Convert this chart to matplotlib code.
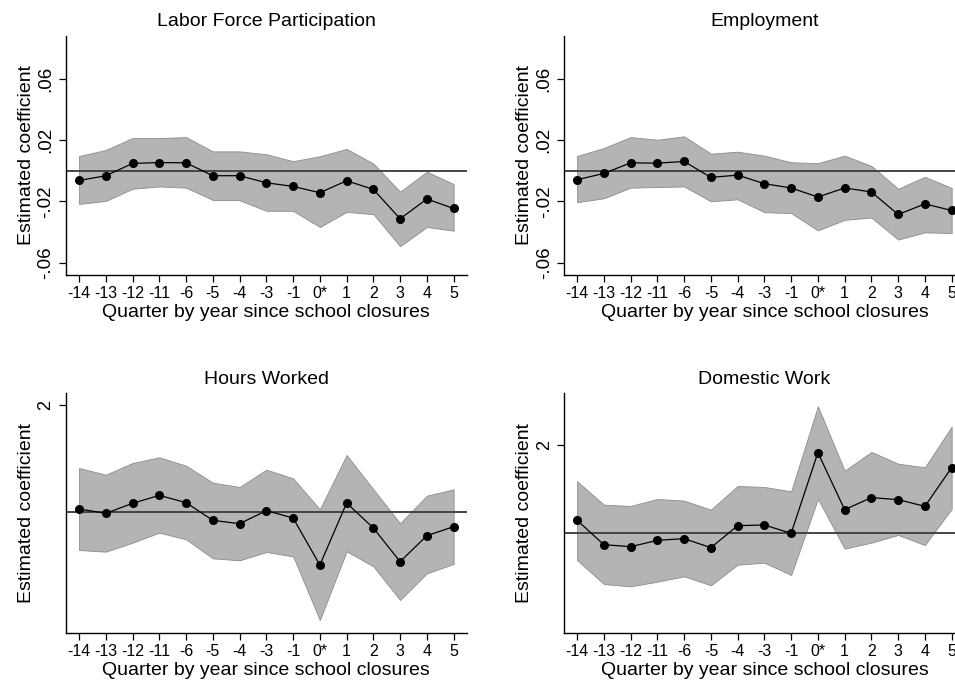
import matplotlib.pyplot as plt

plt.rcParams['font.family'] = ['Liberation Sans', 'DejaVu Sans']

# categorias do eixo x
quarters = ['-14', '-13', '-12', '-11', '-6', '-5', '-4', '-3', '-1', '0*', '1', '2', '3', '4', '5']

# Labor Force Participation
lfp_coef = [-0.0063, -0.0032, 0.0048, 0.0054, 0.0052, -0.0032, -0.0032, -0.0078, -0.0102, -0.0143,
            -0.0065, -0.0121, -0.0313, -0.0184, -0.0246]
lfp_hi = [0.0097, 0.0136, 0.0214, 0.0214, 0.0220, 0.0127, 0.0127, 0.0108, 0.0063, 0.0095,
          0.0143, 0.0048, -0.0136, -0.0006, -0.0086]
lfp_lo = [-0.0216, -0.0197, -0.0117, -0.0102, -0.0110, -0.0190, -0.0192, -0.0261, -0.0261, -0.0367,
          -0.0268, -0.0283, -0.0492, -0.0367, -0.0391]

# Employment
emp_coef = [-0.0058, -0.0017, 0.0052, 0.0050, 0.0061, -0.0043, -0.0028, -0.0084, -0.0112, -0.0171,
            -0.0112, -0.0138, -0.0285, -0.0216, -0.0259]
emp_hi = [0.0097, 0.0149, 0.0220, 0.0203, 0.0225, 0.0112, 0.0125, 0.0099, 0.0056, 0.0050,
          0.0099, 0.0032, -0.0117, -0.0039, -0.0112]
emp_lo = [-0.0205, -0.0179, -0.0110, -0.0106, -0.0102, -0.0199, -0.0186, -0.0270, -0.0276, -0.0389,
          -0.0320, -0.0305, -0.0449, -0.0402, -0.0406]

# Hours Worked
hrs_coef = [0.050, -0.031, 0.157, 0.307, 0.169, -0.163, -0.226, 0.019, -0.119, -1.003,
            0.163, -0.307, -0.940, -0.451, -0.282]
hrs_hi = [0.821, 0.696, 0.915, 1.022, 0.865, 0.545, 0.464, 0.790, 0.627, 0.044,
          1.066, 0.420, -0.219, 0.301, 0.420]
hrs_lo = [-0.721, -0.752, -0.583, -0.395, -0.520, -0.878, -0.915, -0.759, -0.840, -2.038,
          -0.746, -1.028, -1.661, -1.160, -0.984]

# Domestic Work
dom_coef = [0.282, -0.275, -0.321, -0.176, -0.137, -0.344, 0.160, 0.176, -0.015, 1.832,
            0.527, 0.802, 0.756, 0.603, 1.489]
dom_hi = [1.176, 0.641, 0.611, 0.771, 0.733, 0.527, 1.069, 1.046, 0.947, 2.893,
          1.420, 1.847, 1.580, 1.496, 2.427]
dom_lo = [-0.626, -1.176, -1.229, -1.122, -1.000, -1.206, -0.733, -0.687, -0.969, 0.771,
          -0.366, -0.229, -0.053, -0.282, 0.542]

fig = plt.figure(figsize=(9.55, 6.82), dpi=100)


def painel(pos, titulo, coef, hi, lo, ylim, yticks, ylabels, ysize):
    ax = fig.add_axes(pos)
    x = list(range(len(quarters)))
    ax.fill_between(x, lo, hi, color='#b4b4b4', edgecolor='#8c8c8c', linewidth=0.6, zorder=1)
    ax.axhline(0, color='#444444', linewidth=1.4, zorder=2)
    ax.plot(x, coef, color='black', linewidth=0.9, marker='o', markersize=5.5, zorder=3)
    ax.set_xlim(-0.5, len(quarters) - 0.5)
    ax.set_ylim(*ylim)
    ax.set_xticks(x)
    ax.set_xticklabels(quarters, fontsize=11.5)
    ax.set_yticks(yticks)
    ax.set_yticklabels(ylabels, fontsize=ysize, rotation=90, va='center')
    ax.tick_params(direction='out', length=5, width=0.9, pad=3)
    for s in ['top', 'right']:
        ax.spines[s].set_visible(False)
    for s in ['left', 'bottom']:
        ax.spines[s].set_linewidth(1.0)
    ax.set_title(titulo, fontsize=14, pad=7)
    ax.set_xlabel('Quarter by year since school closures', fontsize=14, labelpad=2)
    ax.set_ylabel('Estimated coefficient', fontsize=14, labelpad=2)
    return ax


pct_ticks = [0.06, 0.02, -0.02, -0.06]
pct_labels = ['.06', '.02', '-.02', '-.06']

painel([0.0688, 0.5968, 0.4202, 0.3504], 'Labor Force Participation', lfp_coef, lfp_hi, lfp_lo,
       (-0.068, 0.088), pct_ticks, pct_labels, 13.5)
painel([0.5903, 0.5968, 0.4202, 0.3504], 'Employment', emp_coef, emp_hi, emp_lo,
       (-0.068, 0.088), pct_ticks, pct_labels, 13.5)
painel([0.0688, 0.0723, 0.4202, 0.3510], 'Hours Worked', hrs_coef, hrs_hi, hrs_lo,
       (-2.276, 2.226), [2], ['2'], 13)
painel([0.5903, 0.0723, 0.4202, 0.3510], 'Domestic Work', dom_coef, dom_hi, dom_lo,
       (-2.29, 3.19), [2], ['2'], 13)

fig.savefig('out.png', dpi=100)
